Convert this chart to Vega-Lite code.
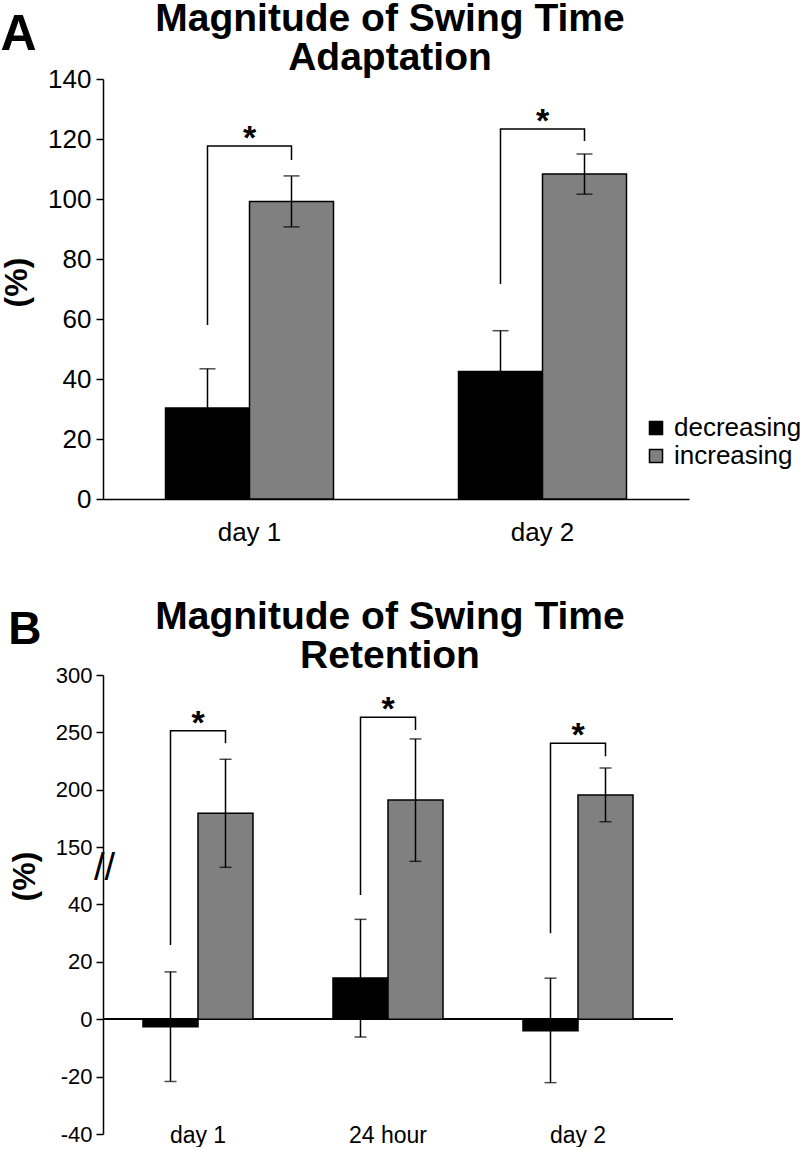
{
  "$schema": "https://vega.github.io/schema/vega-lite/v6.json",
  "padding": {"left": 0, "top": 0, "right": 0, "bottom": 0},
  "background": "white",
  "config": {
    "font": "Liberation Sans",
    "view": {"stroke": null},
    "axis": {"grid": false, "labelColor": "black", "titleColor": "black", "domainColor": "black", "tickColor": "black", "domainWidth": 1.5, "tickWidth": 1.5, "labelFont": "Liberation Sans", "titleFont": "Liberation Sans", "labelOverlap": false},
    "title": {"color": "black", "font": "Liberation Sans"},
    "legend": {"labelFont": "Liberation Sans", "labelColor": "black"}
  },
  "datasets": {
    "barsA": [
      {"day": "day 1", "group": "decreasing", "value": 30.3, "lo": 17.2, "hi": 43.4},
      {"day": "day 1", "group": "increasing", "value": 99.2, "lo": 90.7, "hi": 107.7},
      {"day": "day 2", "group": "decreasing", "value": 42.5, "lo": 28.9, "hi": 56.1},
      {"day": "day 2", "group": "increasing", "value": 108.3, "lo": 101.6, "hi": 115.0}
    ],
    "bracketsA": [
      {"day": "day 1", "group": "decreasing", "y": 58, "ord": 1},
      {"day": "day 1", "group": "decreasing", "y": 117.7, "ord": 2},
      {"day": "day 1", "group": "increasing", "y": 117.7, "ord": 3},
      {"day": "day 1", "group": "increasing", "y": 113, "ord": 4},
      {"day": "day 2", "group": "decreasing", "y": 71.7, "ord": 1},
      {"day": "day 2", "group": "decreasing", "y": 123.3, "ord": 2},
      {"day": "day 2", "group": "increasing", "y": 123.3, "ord": 3},
      {"day": "day 2", "group": "increasing", "y": 119.3, "ord": 4}
    ],
    "barsB": [
      {"day": "day 1", "group": "decreasing", "value": -2.6, "lo": -21.7, "hi": 16.5},
      {"day": "day 1", "group": "increasing", "value": 179.5, "lo": 132.5, "hi": 226.6},
      {"day": "24 hour", "group": "decreasing", "value": 14.4, "lo": -6.2, "hi": 34.8},
      {"day": "24 hour", "group": "increasing", "value": 191.1, "lo": 137.7, "hi": 244.3},
      {"day": "day 2", "group": "decreasing", "value": -4.0, "lo": -22.1, "hi": 14.3},
      {"day": "day 2", "group": "increasing", "value": 195.5, "lo": 172.2, "hi": 219.0}
    ],
    "bracketsB": [
      {"day": "day 1", "group": "decreasing", "y": 25.9, "ord": 1},
      {"day": "day 1", "group": "decreasing", "y": 251.5, "ord": 2},
      {"day": "day 1", "group": "increasing", "y": 251.5, "ord": 3},
      {"day": "day 1", "group": "increasing", "y": 240.5, "ord": 4},
      {"day": "24 hour", "group": "decreasing", "y": 43.3, "ord": 1},
      {"day": "24 hour", "group": "decreasing", "y": 263.2, "ord": 2},
      {"day": "24 hour", "group": "increasing", "y": 263.2, "ord": 3},
      {"day": "24 hour", "group": "increasing", "y": 252.1, "ord": 4},
      {"day": "day 2", "group": "decreasing", "y": 30, "ord": 1},
      {"day": "day 2", "group": "decreasing", "y": 240.5, "ord": 2},
      {"day": "day 2", "group": "increasing", "y": 240.5, "ord": 3},
      {"day": "day 2", "group": "increasing", "y": 229.2, "ord": 4}
    ]
  },
  "spacing": 53,
  "resolve": {"scale": {"x": "independent", "y": "independent", "xOffset": "independent", "color": "independent"}, "legend": {"color": "independent"}, "axis": {"x": "independent", "y": "independent"}},
  "vconcat": [
    {
      "title": {"text": "A", "anchor": "start", "frame": "bounds", "fontSize": 50, "fontWeight": "bold", "dy": 64},
      "resolve": {"scale": {"x": "independent", "y": "independent", "xOffset": "independent", "color": "independent"}, "legend": {"color": "independent"}},
      "vconcat": [
        {
          "width": 586,
          "height": 420,
          "title": {"text": ["Magnitude of Swing Time", "Adaptation"], "fontSize": 39, "fontWeight": "bold", "lineHeight": 39, "anchor": "middle", "frame": "group", "dx": -6, "offset": -12},
          "encoding": {
            "x": {"field": "day", "type": "nominal", "sort": ["day 1", "day 2"], "scale": {"paddingInner": 0.4266, "paddingOuter": 0.2133},
                  "axis": {"title": null, "labelAngle": 0, "ticks": false, "labelPadding": 20, "labelFontSize": 26}},
            "xOffset": {"field": "group", "type": "nominal", "scale": {"domain": ["decreasing", "increasing"], "paddingInner": 0, "paddingOuter": 0}}
          },
          "layer": [
            {
              "data": {"name": "barsA"},
              "mark": {"type": "bar", "stroke": "black", "strokeWidth": 1.5},
              "encoding": {
                "y": {"field": "value", "type": "quantitative", "stack": null, "scale": {"domain": [0, 140], "nice": false},
                      "axis": {"values": [0, 20, 40, 60, 80, 100, 120, 140], "tickSize": 7, "labelPadding": 5, "labelFontSize": 26, "title": "(%)", "titleFontSize": 32, "titleFontWeight": "bold", "titlePadding": 14, "titleY": 203}},
                "color": {"field": "group", "type": "nominal", "scale": {"domain": ["decreasing", "increasing"], "range": ["#000000", "#808080"]},
                          "legend": {"title": null, "orient": "none", "legendX": 540, "legendY": 336, "symbolType": "square", "symbolSize": 170, "symbolStrokeColor": "black", "symbolStrokeWidth": 1.5, "labelFontSize": 26, "labelOffset": 5, "rowPadding": 2}}
              }
            },
            {
              "data": {"name": "barsA"},
              "mark": {"type": "rule", "color": "black", "strokeWidth": 1.5},
              "encoding": {"y": {"field": "lo", "type": "quantitative"}, "y2": {"field": "hi"}}
            },
            {
              "data": {"name": "barsA"},
              "mark": {"type": "tick", "color": "black", "thickness": 1.5, "size": 16, "orient": "horizontal"},
              "encoding": {"y": {"field": "lo", "type": "quantitative"}}
            },
            {
              "data": {"name": "barsA"},
              "mark": {"type": "tick", "color": "black", "thickness": 1.5, "size": 16, "orient": "horizontal"},
              "encoding": {"y": {"field": "hi", "type": "quantitative"}}
            },
            {
              "data": {"name": "bracketsA"},
              "mark": {"type": "line", "color": "black", "strokeWidth": 1.5},
              "encoding": {"y": {"field": "y", "type": "quantitative"}, "detail": {"field": "day"}, "order": {"field": "ord", "type": "quantitative"}}
            },
            {
              "data": {"name": "bracketsA"},
              "transform": [{"filter": "datum.ord == 2"}],
              "mark": {"type": "text", "text": "*", "fontSize": 34, "fontWeight": "bold", "baseline": "alphabetic", "dy": 3, "color": "black"},
              "encoding": {"x": {"field": "day", "type": "nominal"}, "xOffset": null, "y": {"field": "y", "type": "quantitative"}}
            }
          ]
        }
      ]
    },
    {
      "title": {"text": "B", "anchor": "start", "frame": "bounds", "fontSize": 46, "fontWeight": "bold", "dy": 60},
      "resolve": {"scale": {"x": "independent", "y": "independent", "xOffset": "independent", "color": "independent"}, "legend": {"color": "independent"}},
      "vconcat": [
        {
          "width": 570,
          "height": 459,
          "title": {"text": ["Magnitude of Swing Time", "Retention"], "fontSize": 39, "fontWeight": "bold", "lineHeight": 39, "anchor": "middle", "frame": "group", "dx": 2, "offset": -12},
          "encoding": {
            "x": {"field": "day", "type": "nominal", "sort": ["day 1", "24 hour", "day 2"], "scale": {"paddingInner": 0.421, "paddingOuter": 0.2105},
                  "axis": {"title": null, "labelAngle": 0, "ticks": false, "domain": false, "labelPadding": -10, "labelFontSize": 23}},
            "xOffset": {"field": "group", "type": "nominal", "scale": {"domain": ["decreasing", "increasing"], "paddingInner": 0, "paddingOuter": 0}}
          },
          "layer": [
            {
              "data": {"name": "barsB"},
              "mark": {"type": "rule", "color": "black", "strokeWidth": 1.5},
              "encoding": {"x": null, "xOffset": null, "y": {"datum": 0, "type": "quantitative"}}
            },
            {
              "data": {"name": "barsB"},
              "mark": {"type": "bar", "stroke": "black", "strokeWidth": 1.5},
              "encoding": {
                "y": {"field": "value", "type": "quantitative", "stack": null,
                      "scale": {"type": "linear", "domain": [-40, 52.7, 131.9, 300], "range": [459, 193, 193, 0], "nice": false, "zero": false},
                      "axis": {"values": [-40, -20, 0, 20, 40, 92, 150, 200, 250, 300],
                               "labelExpr": "datum.value == 92 ? '//' : toString(datum.value)",
                               "tickSize": 7, "labelFontSize": {"condition": {"test": "datum.value == 92", "value": 38}, "value": 22},
                               "labelPadding": {"condition": {"test": "datum.value == 92", "value": -8}, "value": 4},
                               "labelAlign": {"condition": {"test": "datum.value == 92", "value": "center"}, "value": "right"},
                               "tickColor": {"condition": {"test": "datum.value == 92", "value": "transparent"}, "value": "black"},
                               "title": "(%)", "titleFontSize": 32, "titleFontWeight": "bold", "titlePadding": 14, "titleY": 201}},
                "color": {"field": "group", "type": "nominal", "scale": {"domain": ["decreasing", "increasing"], "range": ["#000000", "#808080"]}, "legend": null}
              }
            },
            {
              "data": {"name": "barsB"},
              "mark": {"type": "rule", "color": "black", "strokeWidth": 1.5},
              "encoding": {"y": {"field": "lo", "type": "quantitative"}, "y2": {"field": "hi"}}
            },
            {
              "data": {"name": "barsB"},
              "mark": {"type": "tick", "color": "black", "thickness": 1.5, "size": 12, "orient": "horizontal"},
              "encoding": {"y": {"field": "lo", "type": "quantitative"}}
            },
            {
              "data": {"name": "barsB"},
              "mark": {"type": "tick", "color": "black", "thickness": 1.5, "size": 12, "orient": "horizontal"},
              "encoding": {"y": {"field": "hi", "type": "quantitative"}}
            },
            {
              "data": {"name": "bracketsB"},
              "mark": {"type": "line", "color": "black", "strokeWidth": 1.5},
              "encoding": {"y": {"field": "y", "type": "quantitative"}, "detail": {"field": "day"}, "order": {"field": "ord", "type": "quantitative"}}
            },
            {
              "data": {"name": "bracketsB"},
              "transform": [{"filter": "datum.ord == 2"}],
              "mark": {"type": "text", "text": "*", "fontSize": 34, "fontWeight": "bold", "baseline": "alphabetic", "dy": 3, "color": "black"},
              "encoding": {"x": {"field": "day", "type": "nominal"}, "xOffset": null, "y": {"field": "y", "type": "quantitative"}}
            }
          ]
        }
      ]
    }
  ]
}
